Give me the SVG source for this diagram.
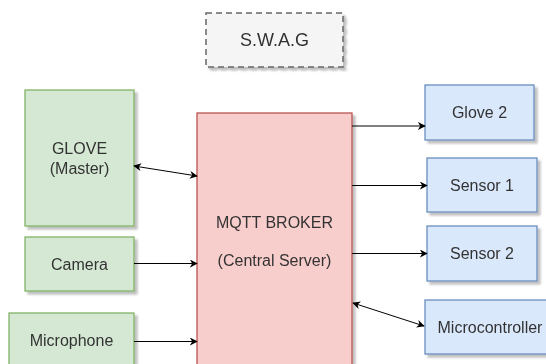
<svg xmlns="http://www.w3.org/2000/svg" width="546" height="364" viewBox="0 0 546 364">
  <style>
    .lbl { font-family: "Liberation Sans", Arial, sans-serif; font-size: 16px; fill: #333333; text-anchor: middle; dominant-baseline: central; }
    .title { font-size: 18px; }
    .green { fill: #d5e8d4; stroke: #82b366; stroke-width: 1.3; }
    .red { fill: #f8cecc; stroke: #b85450; stroke-width: 1.3; }
    .blue { fill: #dae8fc; stroke: #6c8ebf; stroke-width: 1.3; }
    .grey { fill: #f5f5f5; stroke: #666666; stroke-width: 1.5; stroke-dasharray: 6 4; }
    .link { fill: none; stroke: #000000; stroke-width: 1; }
  </style>
  <defs>
    <filter id="shadow" x="-10%" y="-10%" width="130%" height="130%">
      <feGaussianBlur in="SourceAlpha" stdDeviation="1.2"/>
      <feOffset dx="2.5" dy="3" result="off"/>
      <feComponentTransfer><feFuncA type="linear" slope="0.25"/></feComponentTransfer>
      <feMerge><feMergeNode/><feMergeNode in="SourceGraphic"/></feMerge>
    </filter>
    <marker id="arrow" viewBox="0 0 10 10" refX="9" refY="5" markerWidth="8" markerHeight="8" markerUnits="userSpaceOnUse" orient="auto-start-reverse">
      <path d="M0,0 L10,5 L0,10 L3,5 Z" fill="#000000"/>
    </marker>
  </defs>

  <rect width="546" height="364" fill="#ffffff"/>

  <g id="swag" filter="url(#shadow)">
    <rect class="grey" x="206" y="13" width="137" height="54"/>
    <text class="lbl title" x="274.5" y="40">S.W.A.G</text>
  </g>

  <g id="glove-master" filter="url(#shadow)">
    <rect class="green" x="25" y="90" width="109" height="136"/>
    <text class="lbl" x="79.5" y="148">GLOVE</text>
    <text class="lbl" x="79.5" y="168">(Master)</text>
  </g>

  <g id="camera" filter="url(#shadow)">
    <rect class="green" x="25" y="237" width="109" height="54"/>
    <text class="lbl" x="79.5" y="264">Camera</text>
  </g>

  <g id="microphone" filter="url(#shadow)">
    <rect class="green" x="9" y="313" width="125" height="60"/>
    <text class="lbl" x="71.5" y="340">Microphone</text>
  </g>

  <g id="broker" filter="url(#shadow)">
    <rect class="red" x="197" y="113" width="155" height="260"/>
    <text class="lbl" x="274.5" y="222">MQTT BROKER</text>
    <text class="lbl" x="274.5" y="260">(Central Server)</text>
  </g>

  <g id="glove2" filter="url(#shadow)">
    <rect class="blue" x="425" y="85" width="109" height="55"/>
    <text class="lbl" x="479.5" y="112.5">Glove 2</text>
  </g>

  <g id="sensor1" filter="url(#shadow)">
    <rect class="blue" x="427" y="158" width="110" height="54"/>
    <text class="lbl" x="482" y="185">Sensor 1</text>
  </g>

  <g id="sensor2" filter="url(#shadow)">
    <rect class="blue" x="427" y="226" width="110" height="55"/>
    <text class="lbl" x="482" y="253.5">Sensor 2</text>
  </g>

  <g id="microcontroller" filter="url(#shadow)">
    <rect class="blue" x="425" y="300" width="130" height="54"/>
    <text class="lbl" x="490" y="327">Microcontroller</text>
  </g>

  <g id="connectors">
    <line class="link" x1="134" y1="166" x2="197" y2="176" marker-start="url(#arrow)" marker-end="url(#arrow)"/>
    <line class="link" x1="134" y1="263.5" x2="197" y2="263.5" marker-end="url(#arrow)"/>
    <line class="link" x1="134" y1="341.5" x2="197" y2="341.5" marker-end="url(#arrow)"/>
    <line class="link" x1="352" y1="126" x2="425" y2="126" marker-end="url(#arrow)"/>
    <line class="link" x1="352" y1="185.5" x2="427" y2="185.5" marker-end="url(#arrow)"/>
    <line class="link" x1="352" y1="253.5" x2="427" y2="253.5" marker-end="url(#arrow)"/>
    <line class="link" x1="353" y1="303" x2="424" y2="326" marker-start="url(#arrow)" marker-end="url(#arrow)"/>
  </g>
</svg>
